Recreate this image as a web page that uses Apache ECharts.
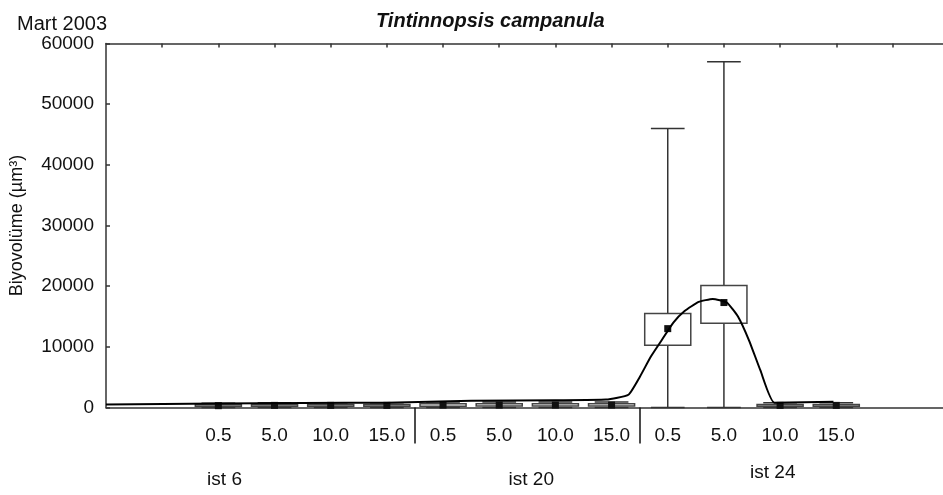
<!DOCTYPE html>
<html>
<head>
<meta charset="utf-8">
<script src="https://cdn.jsdelivr.net/npm/echarts@6/dist/echarts.min.js"></script>
<style>
  html, body { margin: 0; padding: 0; background: #fff; }
  #chart { width: 943px; height: 495px; }
</style>
</head>
<body>
<div id="chart"></div>
<script>
// depth labels, three stations with four depths each
const depthLabels = ['0.5', '5.0', '10.0', '15.0', '0.5', '5.0', '10.0', '15.0', '0.5', '5.0', '10.0', '15.0'];
const stationNames = ['ist 6', 'ist 20', 'ist 24'];
const stationLabelPos = [2.11, 7.57, 11.87];
const groupBreaks = [5.5, 9.5];

// box plot values (µm3)
const whiskerLow  = [0, 0, 0, 0, 0, 0, 0, 0, 0, 0, 0, 0];
const boxLow      = [150, 200, 200, 200, 200, 250, 250, 250, 10250, 13900, 200, 200];
const meanValue   = [300, 350, 350, 350, 400, 400, 400, 400, 13000, 17300, 350, 350];
const boxHigh     = [450, 500, 500, 500, 600, 600, 600, 600, 15500, 20100, 500, 500];
const whiskerHigh = [700, 800, 800, 800, 900, 900, 900, 900, 46000, 57000, 800, 800];

// smoothed trend line (x in slot units)
const curveX = [0, 2.0, 3.5, 5.0, 6.5, 8.0, 8.9, 9.3, 9.5, 9.7, 9.9, 10.1, 10.3, 10.55, 10.8, 11.05, 11.25, 11.45, 11.65, 11.9, 12.95];
const curveY = [500, 650, 750, 800, 1100, 1200, 1300, 2100, 5000, 8400, 11200, 14000, 15900, 17400, 17900, 17300, 15000, 11000, 6100, 800, 950];

const yTicks = [0, 10000, 20000, 30000, 40000, 50000, 60000];

const firstSlot = 2;
const xMax = 14.9;
const ink = '#111';
const font = 'Liberation Sans, Arial, sans-serif';

const boxData = depthLabels.map((d, i) => [
  i + firstSlot, whiskerLow[i], boxLow[i], boxHigh[i], whiskerHigh[i], meanValue[i]
]);
const slotValues = depthLabels.map((d, i) => i + firstSlot);

function renderBox(params, api) {
  const x = api.value(0);
  const lo = api.coord([x, api.value(1)]);
  const q1 = api.coord([x, api.value(2)]);
  const q3 = api.coord([x, api.value(3)]);
  const hi = api.coord([x, api.value(4)]);
  const mean = api.coord([x, api.value(5)]);
  const slot = api.size([1, 0])[0];
  const bw = slot * 0.82;
  const cw = slot * 0.6;
  const ls = { stroke: '#333', lineWidth: 1.5, fill: null };
  return {
    type: 'group',
    children: [
      { type: 'line', shape: { x1: hi[0], y1: hi[1], x2: q3[0], y2: q3[1] }, style: ls },
      { type: 'line', shape: { x1: q1[0], y1: q1[1], x2: lo[0], y2: lo[1] }, style: ls },
      { type: 'line', shape: { x1: hi[0] - cw / 2, y1: hi[1], x2: hi[0] + cw / 2, y2: hi[1] }, style: ls },
      { type: 'line', shape: { x1: lo[0] - cw / 2, y1: lo[1], x2: lo[0] + cw / 2, y2: lo[1] }, style: ls },
      { type: 'rect', shape: { x: q3[0] - bw / 2, y: q3[1], width: bw, height: Math.max(q1[1] - q3[1], 1) }, style: { stroke: '#444', lineWidth: 1.5, fill: 'rgba(0,0,0,0)' } },
      { type: 'rect', shape: { x: mean[0] - 3.5, y: mean[1] - 3.5, width: 7, height: 7 }, style: { fill: '#111' } }
    ]
  };
}

const chart = echarts.init(document.getElementById('chart'));
chart.setOption({
  animation: false,
  backgroundColor: '#fff',
  textStyle: { fontFamily: font },
  title: [
    { text: 'Mart 2003', left: 12, top: 9, textStyle: { fontSize: 20, fontWeight: 'normal', color: ink, fontFamily: font } },
    { text: 'Tintinnopsis campanula', left: 371, top: 6, textStyle: { fontSize: 20, fontWeight: 'bold', fontStyle: 'italic', color: ink, fontFamily: font } }
  ],
  grid: { left: 104, right: 0, top: 43.5, bottom: 87.5 },
  xAxis: [
    {
      type: 'value', position: 'bottom', min: 0, max: xMax,
      axisLine: { show: true, onZero: false, lineStyle: { color: '#333', width: 1.5 } },
      axisTick: { show: true, customValues: groupBreaks, length: 36, lineStyle: { color: ink, width: 1.5 } },
      axisLabel: {
        customValues: slotValues, margin: 19, fontSize: 19, color: ink, fontFamily: font,
        formatter: v => depthLabels[Math.round(v) - firstSlot] || ''
      },
      splitLine: { show: false }
    },
    {
      type: 'value', position: 'top', min: 0, max: xMax,
      axisLine: { show: true, onZero: false, lineStyle: { color: '#333', width: 1.5 } },
      axisTick: { show: true, inside: true, length: 4, customValues: [1, 2, 3, 4, 5, 6, 7, 8, 9, 10, 11, 12, 13, 14], lineStyle: { color: '#333', width: 1.5 } },
      axisLabel: { show: false },
      splitLine: { show: false }
    },
    {
      type: 'value', position: 'bottom', min: 0, max: xMax,
      axisLine: { show: false, onZero: false }, axisTick: { show: false }, splitLine: { show: false },
      axisLabel: {
        customValues: stationLabelPos, margin: 56, fontSize: 19, color: ink, fontFamily: font,
        formatter: v => {
          const i = stationLabelPos.findIndex(p => Math.abs(p - v) < 1e-6);
          return i === 2 ? '{b|' + stationNames[i] + '}' : '{a|' + stationNames[i] + '}';
        },
        rich: {
          a: { fontSize: 19, color: ink, fontFamily: font, padding: [7, 0, 0, 0] },
          b: { fontSize: 19, color: ink, fontFamily: font }
        }
      }
    }
  ],
  yAxis: {
    type: 'value', min: 0, max: 60000, interval: 10000,
    name: 'Biyovolüme (µm³)', nameLocation: 'middle', nameGap: 80,
    nameTextStyle: { fontSize: 18, color: ink, fontFamily: font },
    axisLine: { show: true, lineStyle: { color: '#333', width: 1.5 } },
    axisTick: { show: true, inside: true, length: 4, lineStyle: { color: '#333', width: 1.5 } },
    axisLabel: { fontSize: 19, color: ink, margin: 12, fontFamily: font, formatter: v => yTicks.includes(v) ? String(v) : '' },
    splitLine: { show: false }
  },
  series: [
    {
      type: 'custom', name: 'box', xAxisIndex: 0, renderItem: renderBox,
      data: boxData, clip: false, z: 3
    },
    {
      type: 'line', name: 'trend', xAxisIndex: 0, smooth: 0.15, showSymbol: false,
      data: curveX.map((x, i) => [x, curveY[i]]),
      lineStyle: { color: '#000', width: 2 }, z: 4
    }
  ]
});
</script>
</body>
</html>
